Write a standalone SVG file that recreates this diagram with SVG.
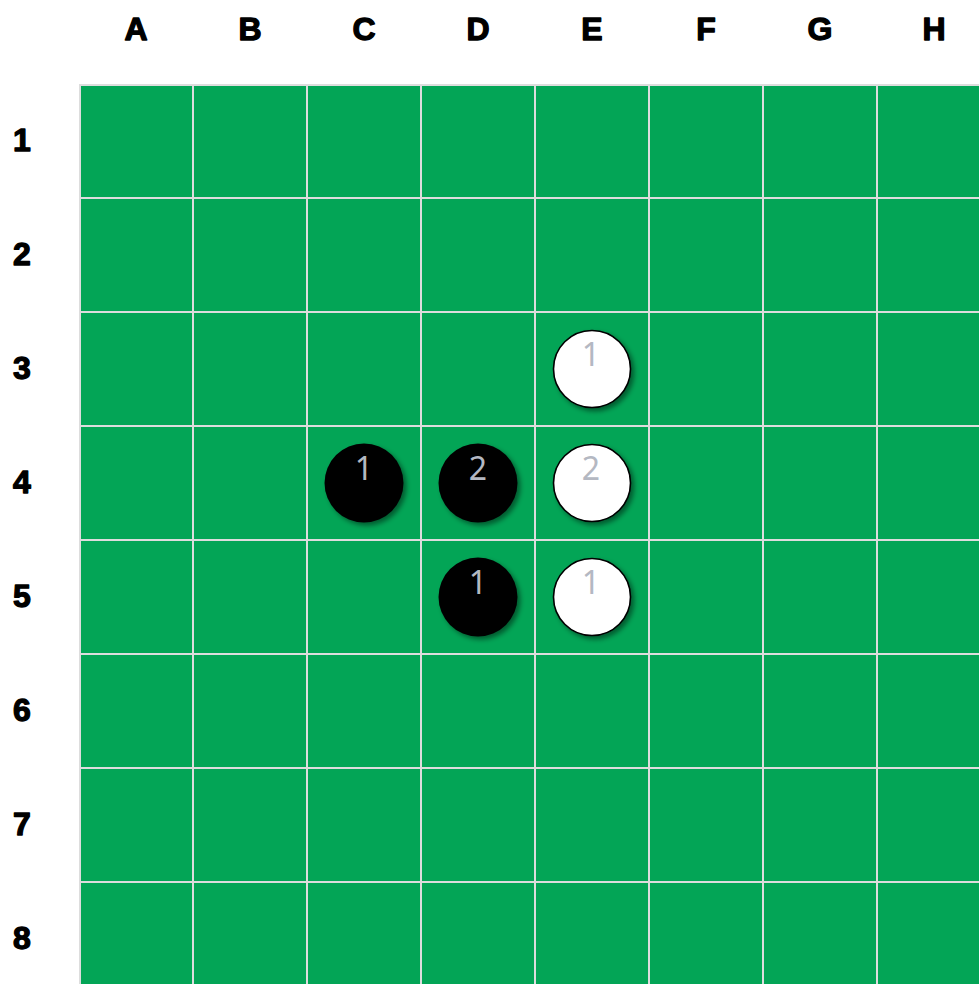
<svg xmlns="http://www.w3.org/2000/svg" width="979" height="984" viewBox="0 0 979 984">
<defs>
<style>
.lbl{font-family:"Liberation Sans",Arial,sans-serif;font-weight:bold;font-size:32px;fill:#000;stroke:#000;stroke-width:1.3;stroke-linejoin:round;text-anchor:middle}
.num{font-family:"Noto Sans","Open Sans",sans-serif;font-weight:400;font-size:32px;fill:#b4b8c2;text-anchor:middle}
.grid{stroke:#dddddd;stroke-width:2;fill:none}
.black{fill:#000}
.white{fill:#fff;stroke:#000;stroke-width:1.6}
</style>
<filter id="sh" x="-30%" y="-30%" width="170%" height="170%">
<feDropShadow dx="3" dy="3" stdDeviation="2.5" flood-color="#000" flood-opacity="0.45"/>
</filter>
</defs>
<rect width="979" height="984" fill="#fff"/>
<g id="board">
<rect x="79" y="84" width="912" height="912" fill="#03a556"/>
<path class="grid" d="M80 84V984M193 84V984M307 84V984M421 84V984M535 84V984M649 84V984M763 84V984M877 84V984M79 85H979M79 198H979M79 312H979M79 426H979M79 540H979M79 654H979M79 768H979M79 882H979"/>
</g>
<g id="col-labels">
<text class="lbl" x="136" y="40">A</text>
<text class="lbl" x="250" y="40">B</text>
<text class="lbl" x="364" y="40">C</text>
<text class="lbl" x="478" y="40">D</text>
<text class="lbl" x="592" y="40">E</text>
<text class="lbl" x="706" y="40">F</text>
<text class="lbl" x="820" y="40">G</text>
<text class="lbl" x="934" y="40">H</text>
</g>
<g id="row-labels">
<text class="lbl" x="22" y="151">1</text>
<text class="lbl" x="22" y="265">2</text>
<text class="lbl" x="22" y="379">3</text>
<text class="lbl" x="22" y="493">4</text>
<text class="lbl" x="22" y="607">5</text>
<text class="lbl" x="22" y="721">6</text>
<text class="lbl" x="22" y="835">7</text>
<text class="lbl" x="22" y="949">8</text>
</g>
<g id="stone-E3"><circle class="white" cx="592" cy="369" r="38.5" filter="url(#sh)"/><text class="num" x="591" y="366">1</text></g>
<g id="stone-C4"><circle class="black" cx="364" cy="483" r="39.5" filter="url(#sh)"/><text class="num" x="364" y="480">1</text></g>
<g id="stone-D4"><circle class="black" cx="478" cy="483" r="39.5" filter="url(#sh)"/><text class="num" x="478" y="480">2</text></g>
<g id="stone-E4"><circle class="white" cx="592" cy="483" r="38.5" filter="url(#sh)"/><text class="num" x="591" y="480">2</text></g>
<g id="stone-D5"><circle class="black" cx="478" cy="597" r="39.5" filter="url(#sh)"/><text class="num" x="478" y="594">1</text></g>
<g id="stone-E5"><circle class="white" cx="592" cy="597" r="38.5" filter="url(#sh)"/><text class="num" x="591" y="594">1</text></g>
<g id="connectors"></g>
</svg>
